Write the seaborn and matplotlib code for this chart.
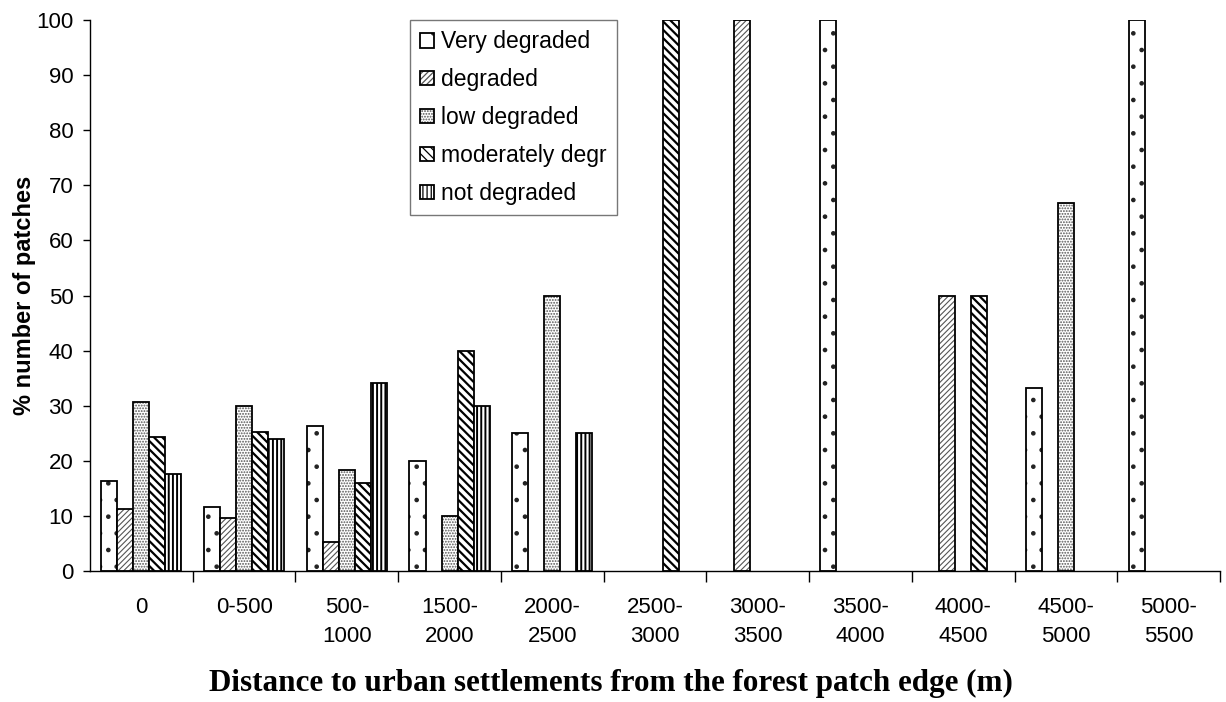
import matplotlib
matplotlib.use("Agg")
import matplotlib.pyplot as plt
import seaborn as sns
import pandas as pd
from matplotlib.colors import to_rgba
from matplotlib.ticker import FixedLocator

# Distance classes (m) and share of patches per degradation class
distances = ["0", "0-500", "500-\n1000", "1500-\n2000", "2000-\n2500", "2500-\n3000",
             "3000-\n3500", "3500-\n4000", "4000-\n4500", "4500-\n5000", "5000-\n5500"]
classes = ["Very degraded", "degraded", "low degraded", "moderately degr", "not degraded"]

very_degraded = [16.3, 11.6, 26.3, 20, 25, 0, 0, 100, 0, 33.3, 100]
degraded = [11.3, 9.6, 5.3, 0, 0, 0, 100, 0, 50, 0, 0]
low_degraded = [30.6, 30, 18.4, 10, 50, 0, 0, 0, 0, 66.7, 0]
moderately_degr = [24.3, 25.3, 16, 40, 0, 100, 0, 0, 50, 0, 0]
not_degraded = [17.6, 24, 34.2, 30, 25, 0, 0, 0, 0, 0, 0]

series = [very_degraded, degraded, low_degraded, moderately_degr, not_degraded]
rows = []
for cls, vals in zip(classes, series):
    for d, v in zip(distances, vals):
        rows.append({"distance": d, "class": cls, "pct": v})
df = pd.DataFrame(rows)

sns.set_style("white")
plt.rcParams["font.family"] = ["Liberation Sans", "DejaVu Sans"]
plt.rcParams["text.color"] = "black"
plt.rcParams["axes.labelcolor"] = "black"
plt.rcParams["xtick.color"] = "black"
plt.rcParams["ytick.color"] = "black"
plt.rcParams["hatch.linewidth"] = 0.9

fig = plt.figure(figsize=(12.26, 7.02), dpi=100)
ax = fig.add_axes([90 / 1226, 1 - 571 / 702, 1130 / 1226, 551 / 702])

sns.barplot(data=df, x="distance", y="pct", hue="class", order=distances,
            hue_order=classes, palette=["white"] * 5, width=0.78, gap=0,
            edgecolor="black", linewidth=1.3, ax=ax, legend=True)

hatches = [".", "//////", "......", "\\\\\\\\", "||||"]
hatch_colors = ["#222222", "#555555", "#555555", "black", "black"]
hatch_widths = [0.9, 0.8, 0.9, 1.6, 1.4]


def style_patch(p, i):
    p.set_hatch(hatches[i])
    p.set_facecolor("white")
    p.set_edgecolor("black")
    p._hatch_color = to_rgba(hatch_colors[i])
    if hasattr(p, "set_hatch_linewidth"):
        p.set_hatch_linewidth(hatch_widths[i])


n = len(distances)
for i, cont in enumerate(ax.containers):
    for p in cont.patches:
        style_patch(p, i)
        if p.get_height() == 0:
            p.set_visible(False)

ax.set_ylim(0, 100)
ax.set_xlim(-0.5, n - 0.5)
ax.set_yticks(range(0, 101, 10))
ax.tick_params(axis="y", labelsize=16, length=5, width=1, direction="out", left=True, pad=7)
ax.set_xticks(range(n))
ax.set_xticklabels(distances, fontsize=16, linespacing=1.45)
ax.tick_params(axis="x", which="major", length=0, pad=19)
ax.xaxis.set_minor_locator(FixedLocator([k + 0.5 for k in range(n)]))
ax.tick_params(axis="x", which="minor", length=8, width=1, direction="out", bottom=True)

for s in ["top", "right"]:
    ax.spines[s].set_visible(False)
for s in ["left", "bottom"]:
    ax.spines[s].set_color("black")
    ax.spines[s].set_linewidth(1)

ax.set_ylabel("% number of patches", fontsize=17, fontweight="bold", labelpad=0)
ax.set_xlabel("Distance to urban settlements from the forest patch edge (m)",
              fontsize=22.4, fontweight="bold", family=["Liberation Serif", "DejaVu Serif"],
              labelpad=16)
ax.xaxis.label.set_x(0.461)

handles, labels = ax.get_legend_handles_labels()
for i, h in enumerate(handles):
    style_patch(h, i)
leg = ax.legend(handles, labels, loc="upper left", bbox_to_anchor=(0.283, 1.0),
                fontsize=16.5, frameon=True, fancybox=False, edgecolor="#555555",
                handlelength=0.6, handleheight=0.6, handletextpad=0.3,
                labelspacing=0.65, borderpad=0.45, borderaxespad=0)
leg.get_frame().set_linewidth(1)

fig.savefig("out.png", dpi=100)
